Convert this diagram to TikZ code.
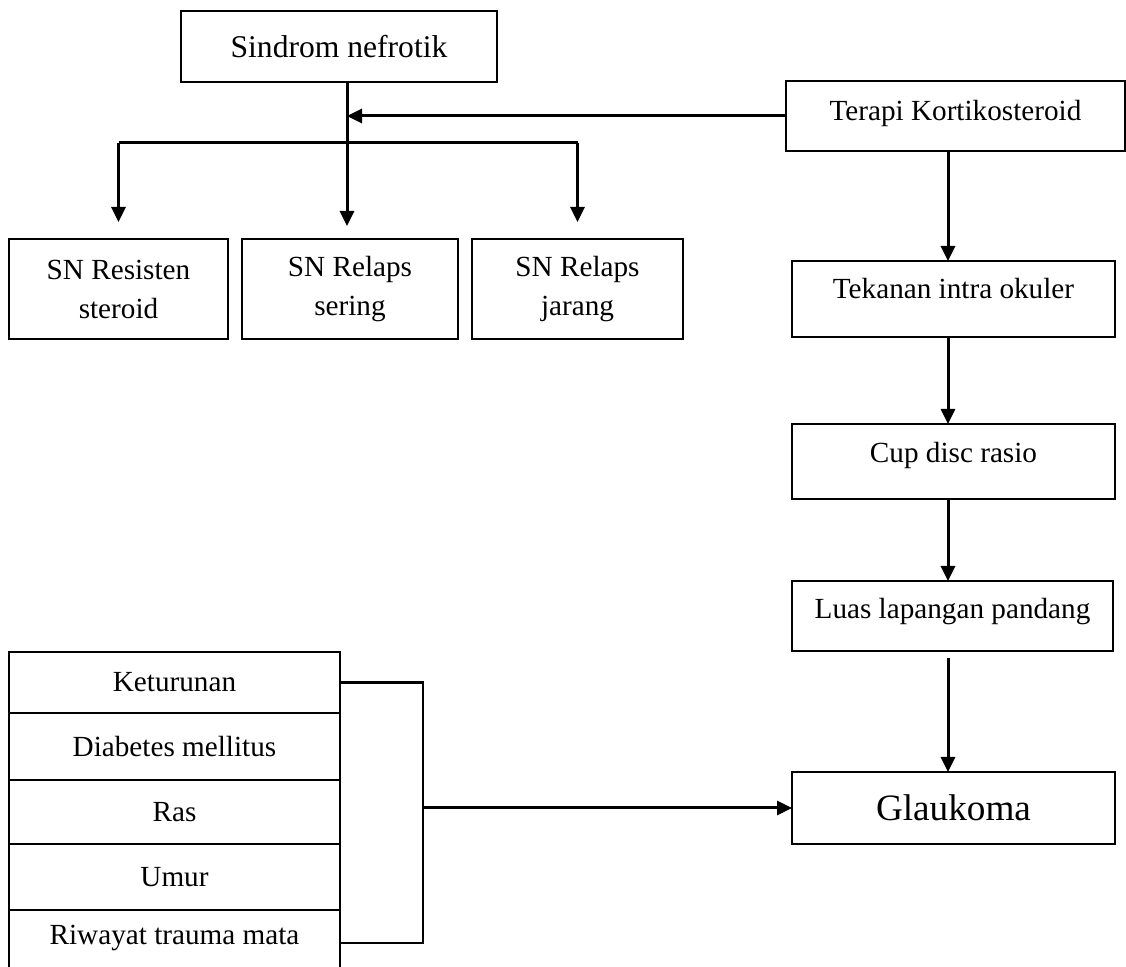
\documentclass[tikz,border=0pt]{standalone}
\usepackage{fontspec}
\setmainfont{Liberation Serif}
\usetikzlibrary{positioning,arrows.meta}

\begin{document}
\begin{tikzpicture}[x=0.5pt,y=-0.5pt,
  box/.style={draw,line width=1.1pt,inner sep=0pt,outer sep=0pt,align=center,font=\fontsize{14.6}{19.5}\selectfont},
  raised/.style={text height=11pt,text depth=#1},
  arr/.style={line width=1.5pt,-{Triangle[length=7.5pt,width=7pt]}}]
\useasboundingbox (0,0) rectangle (1126,967);
\clip (0,0) rectangle (1126,967);
% top: sindrom nefrotik and its three outcomes
\node[box,minimum width=158pt,minimum height=35.5pt,font=\fontsize{15.8}{19}\selectfont] (sindrom) at (339,46.5) {Sindrom nefrotik};
\node[box,raised=6pt,minimum width=169.5pt,minimum height=35pt] (terapi) at (955.5,116) {Terapi Kortikosteroid};
\node[box,minimum width=109.5pt,minimum height=50pt] (resisten) at (118.5,289) {SN Resisten\\steroid};
\node[box,minimum width=108pt,minimum height=50pt] (sering) at (350,289) {SN Relaps\\sering};
\node[box,minimum width=105.5pt,minimum height=50pt] (jarang) at (577.5,289) {SN Relaps\\jarang};
% right column
\node[box,raised=11pt,minimum width=161.5pt,minimum height=38pt] (tekanan) at (953.5,299) {Tekanan intra okuler};
\node[box,raised=10pt,minimum width=161.5pt,minimum height=37.5pt] (cup) at (953.5,461.5) {Cup disc rasio};
\node[box,raised=8pt,minimum width=160.5pt,minimum height=35pt] (luas) at (952.5,616) {Luas lapangan pandang};
\node[box,minimum width=161.5pt,minimum height=36pt,font=\fontsize{18.6}{22}\selectfont] (glaukoma) at (953.5,808) {Glaukoma};
% risk factors, stacked
\node[box,minimum width=165.5pt,minimum height=30.5pt] (keturunan) at (174.5,682.5) {Keturunan};
\node[box,minimum width=165.5pt,minimum height=33.5pt,below=0pt of keturunan] (diabetes) {Diabetes mellitus};
\node[box,minimum width=165.5pt,minimum height=32pt,below=0pt of diabetes] (ras) {Ras};
\node[box,minimum width=165.5pt,minimum height=33pt,below=0pt of ras] (umur) {Umur};
\node[box,raised=9pt,minimum width=165.5pt,minimum height=33pt,below=0pt of umur] (riwayat) {Riwayat trauma mata};

\coordinate (split) at (347,143);
\coordinate (spine) at (948,0);
\coordinate (brk) at (423,0);

\draw[line width=1.5pt] (sindrom.south -| split) -- (split);
\draw[line width=1.5pt] (split -| resisten) -- (split -| jarang);
\draw[arr,shorten >=6.5pt] (split) -- (split |- sering.north);
\foreach \n in {resisten,jarang}{\draw[arr,shorten >=8.5pt] (split -| \n) -- (\n.north);}
\draw[arr] (terapi.west) -- (terapi.west -| split);

\draw[arr] (terapi.south -| spine) -- (tekanan.north -| spine);
\draw[arr] (tekanan.south -| spine) -- (cup.north -| spine);
\draw[arr] (cup.south -| spine) -- (luas.north -| spine);
\draw[arr,shorten <=3.5pt] (luas.south -| spine) -- (glaukoma.north -| spine);

\draw[line width=1.1pt] (keturunan.east) -| (brk |- riwayat.east) -- (riwayat.east);
\draw[arr] (brk |- glaukoma.west) -- (glaukoma.west);
\end{tikzpicture}
\end{document}
